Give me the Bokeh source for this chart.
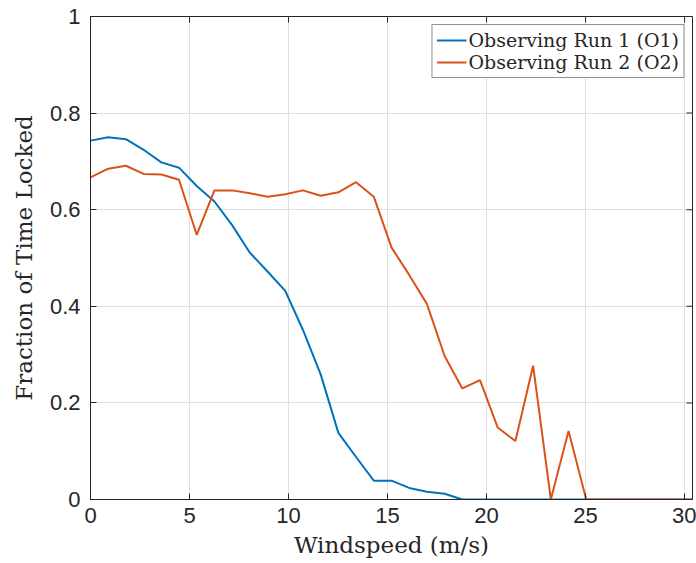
from bokeh.plotting import figure
from bokeh.models import Range1d, FixedTicker, Legend, LegendItem
from bokeh.embed import file_html
from bokeh.resources import INLINE

# Wind speed bins (m/s), 2 mph steps
windspeed = [0.0, 0.894, 1.788, 2.682, 3.576, 4.470, 5.364, 6.259, 7.153, 8.047,
             8.941, 9.835, 10.729, 11.623, 12.517, 13.411, 14.305, 15.199, 16.093,
             16.988, 17.882, 18.776, 19.670, 20.564, 21.458, 22.352, 23.246, 24.140,
             25.034, 25.928, 26.822, 27.716, 28.611, 29.505, 30.399]

o1_fraction = [0.743, 0.750, 0.746, 0.724, 0.698, 0.687, 0.649, 0.617, 0.568, 0.511,
               0.472, 0.432, 0.351, 0.259, 0.138, 0.088, 0.039, 0.039, 0.024, 0.016,
               0.012, 0.0, 0.0, 0.0, 0.0, 0.0, 0.0, 0.0, 0.0, 0.0,
               0.0, 0.0, 0.0, 0.0, 0.0]

o2_fraction = [0.667, 0.685, 0.691, 0.674, 0.673, 0.662, 0.548, 0.640, 0.640, 0.634,
               0.627, 0.632, 0.640, 0.629, 0.636, 0.657, 0.627, 0.522, 0.465, 0.405,
               0.297, 0.230, 0.247, 0.149, 0.121, 0.277, 0.0, 0.142, 0.0, 0.0,
               0.0, 0.0, 0.0, 0.0, 0.0]

series_labels = ["Observing Run 1 (O1)", "Observing Run 2 (O2)"]
x_ticks = [0, 5, 10, 15, 20, 25, 30]
y_ticks = [0, 0.2, 0.4, 0.6, 0.8, 1]
x_max = 30.4
y_max = 1.0

AX = "#262626"
GRID = "#dfdfdf"
BLUE = "#0072BD"
RED = "#D95319"
SERIF = "DejaVu Serif"
SANS = "Liberation Sans"

p = figure(width=696, height=563, output_backend="svg", toolbar_location=None,
           x_range=Range1d(0, x_max), y_range=Range1d(0, y_max),
           min_border_left=90, min_border_right=4, min_border_top=16, min_border_bottom=64)
p.background_fill_color = "white"
p.border_fill_color = "white"
p.outline_line_color = AX
p.outline_line_width = 1

p.xgrid.grid_line_color = GRID
p.ygrid.grid_line_color = GRID
p.xgrid.ticker = FixedTicker(ticks=x_ticks)
p.ygrid.ticker = FixedTicker(ticks=y_ticks)

r1 = p.line(windspeed, o1_fraction, line_color=BLUE, line_width=2)
r2 = p.line(windspeed, o2_fraction, line_color=RED, line_width=2)

# inward ticks on the top and right edges of the box (half clipped by the frame)
p.rect(x=x_ticks, y=[y_max] * len(x_ticks), width=1, height=12,
       width_units="screen", height_units="screen", fill_color=AX, line_color=None)
p.rect(x=[x_max] * len(y_ticks), y=y_ticks, width=12, height=1,
       width_units="screen", height_units="screen", fill_color=AX, line_color=None)

for ax in p.xaxis:
    ax.ticker = FixedTicker(ticks=x_ticks)
for ax in p.yaxis:
    ax.ticker = FixedTicker(ticks=y_ticks)
    ax.major_label_overrides = {0: "0", 1: "1"}

p.xaxis.axis_label = "Windspeed (m/s)"
p.yaxis.axis_label = "Fraction of Time Locked"

for ax in list(p.xaxis) + list(p.yaxis):
    ax.axis_line_color = AX
    ax.major_tick_line_color = AX
    ax.major_tick_in = 6
    ax.major_tick_out = 0
    ax.minor_tick_line_color = None
    ax.major_label_text_font = SANS
    ax.major_label_text_font_size = "22px"
    ax.major_label_text_color = AX
    ax.axis_label_text_font = SERIF
    ax.axis_label_text_font_size = "23px"
    ax.axis_label_text_font_style = "normal"
    ax.axis_label_text_color = AX
p.xaxis.major_label_standoff = 8
p.xaxis.axis_label_standoff = 6
p.yaxis.major_label_standoff = 10
p.yaxis.axis_label_standoff = 10

legend = Legend(items=[LegendItem(label=series_labels[0], renderers=[r1]),
                       LegendItem(label=series_labels[1], renderers=[r2])],
                location="top_right")
legend.label_text_font = SERIF
legend.label_text_font_size = "19px"
legend.label_text_color = AX
legend.glyph_width = 30
legend.glyph_height = 22
legend.label_height = 22
legend.label_standoff = 2
legend.padding = 4
legend.spacing = 0
legend.margin = 8
legend.border_line_color = AX
legend.border_line_width = 1
legend.background_fill_alpha = 1
p.add_layout(legend)

open("out.html", "w").write(file_html(p, INLINE))
